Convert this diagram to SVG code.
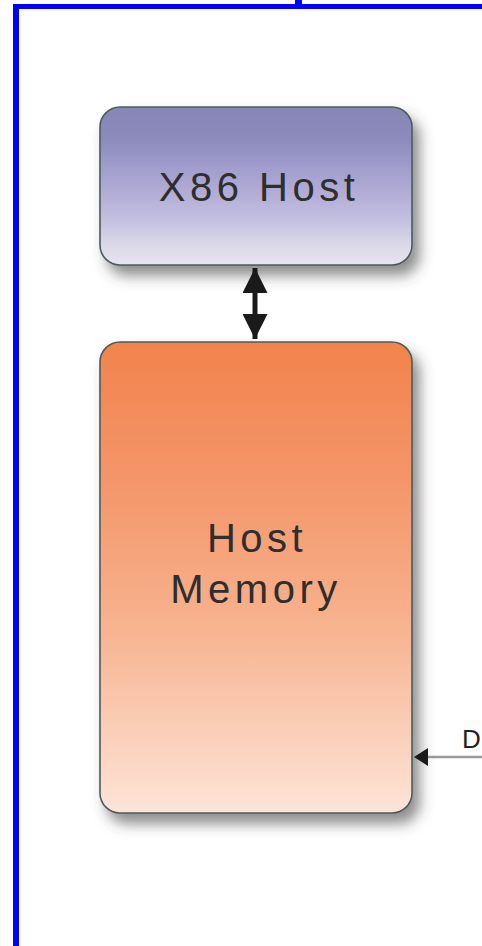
<svg xmlns="http://www.w3.org/2000/svg" width="482" height="946" viewBox="0 0 482 946">
  <style>
    .box { stroke: #4d5c5a; stroke-width: 1.6; }
    .label { font-family: "Liberation Sans", Arial, sans-serif; font-size: 40px; letter-spacing: 4.5px; fill: #2e2e2e; text-anchor: middle; }
    .frame { fill: #0000ff; }
  </style>
  <defs>
    <linearGradient id="hostFill" x1="0" y1="0" x2="0" y2="1">
      <stop offset="0" stop-color="#8786b6"/>
      <stop offset="0.2" stop-color="#8b8abb"/>
      <stop offset="0.35" stop-color="#9d9acb"/>
      <stop offset="0.55" stop-color="#b3add6"/>
      <stop offset="0.72" stop-color="#c4c0e0"/>
      <stop offset="0.85" stop-color="#d8d6e6"/>
      <stop offset="1" stop-color="#e8e4f0"/>
    </linearGradient>
    <linearGradient id="memFill" x1="0" y1="0" x2="0" y2="1">
      <stop offset="0" stop-color="#f2834c"/>
      <stop offset="0.3" stop-color="#f4966a"/>
      <stop offset="0.6" stop-color="#f7b28e"/>
      <stop offset="1" stop-color="#fde4d8"/>
    </linearGradient>
    <filter id="shadow" x="-15%" y="-15%" width="140%" height="140%">
      <feDropShadow dx="7" dy="10" stdDeviation="7" flood-color="#404040" flood-opacity="0.6"/>
    </filter>
    <marker id="headBlack" viewBox="0 0 10 10" refX="10" refY="5" markerWidth="5" markerHeight="5" orient="auto-start-reverse" markerUnits="strokeWidth">
      <path d="M0,0 L10,5 L0,10 Z" fill="#1a1a1a"/>
    </marker>
  </defs>

  <rect width="482" height="946" fill="#ffffff"/>

  <!-- outer frame -->
  <rect class="frame" x="13" y="4" width="469" height="5"/>
  <rect class="frame" x="13" y="4" width="6" height="942"/>
  <rect class="frame" x="295" y="0" width="7" height="5"/>

  <g id="x86-host">
    <rect class="box" x="100" y="107" width="312" height="158" rx="20" fill="url(#hostFill)" filter="url(#shadow)"/>
    <text class="label" x="259" y="201">X86 Host</text>
  </g>

  <g id="host-memory">
    <rect class="box" x="100" y="342" width="312" height="471" rx="20" fill="url(#memFill)" filter="url(#shadow)"/>
    <text class="label" x="257" y="552">Host</text>
    <text class="label" x="256" y="603">Memory</text>
  </g>

  <g id="connectors">
    <line x1="255" y1="268" x2="255" y2="339" stroke="#1a1a1a" stroke-width="5" marker-start="url(#headBlack)" marker-end="url(#headBlack)"/>
    <line x1="482" y1="757" x2="416" y2="757" stroke="#9a9a9a" stroke-width="2.5"/>
    <path d="M414,757 L428,748 L428,766 Z" fill="#1a1a1a"/>
    <text x="462" y="748" style="font-family:'Liberation Sans', Arial, sans-serif; font-size:26px; fill:#222;">D</text>
  </g>
</svg>
